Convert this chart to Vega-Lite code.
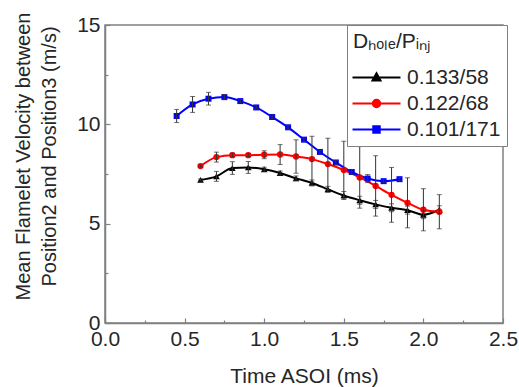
{
  "$schema": "https://vega.github.io/schema/vega-lite/v6.json",
  "width": 398,
  "height": 298,
  "autosize": "none",
  "padding": {"left": 105, "top": 25, "right": 16, "bottom": 64},
  "background": "white",
  "config": {
    "view": {"stroke": "#808080", "strokeWidth": 1.5},
    "axis": {
      "domainColor": "#808080",
      "domainWidth": 1.5,
      "tickColor": "#808080",
      "tickWidth": 1.2,
      "grid": false,
      "labelFont": "Liberation Sans",
      "labelFontSize": 21,
      "labelColor": "#262626",
      "titleFont": "Liberation Sans",
      "titleFontWeight": "normal",
      "titleColor": "#262626"
    }
  },
  "datasets": {
    "d": [
      {"series": "0.133/58", "t": 0.6, "v": 7.2, "err": 0.05},
      {"series": "0.133/58", "t": 0.7, "v": 7.38, "err": 0.25},
      {"series": "0.133/58", "t": 0.8, "v": 7.8, "err": 0.32},
      {"series": "0.133/58", "t": 0.9, "v": 7.83, "err": 0.3},
      {"series": "0.133/58", "t": 1.0, "v": 7.74, "err": 0.1},
      {"series": "0.133/58", "t": 1.1, "v": 7.55, "err": 0.1},
      {"series": "0.133/58", "t": 1.2, "v": 7.28, "err": 0.12},
      {"series": "0.133/58", "t": 1.3, "v": 7.05, "err": 0.15},
      {"series": "0.133/58", "t": 1.4, "v": 6.73, "err": 0.15},
      {"series": "0.133/58", "t": 1.5, "v": 6.42, "err": 0.2},
      {"series": "0.133/58", "t": 1.6, "v": 6.18, "err": 0.2},
      {"series": "0.133/58", "t": 1.7, "v": 5.97, "err": 0.2},
      {"series": "0.133/58", "t": 1.8, "v": 5.8, "err": 0.2},
      {"series": "0.133/58", "t": 1.9, "v": 5.68, "err": 0.2},
      {"series": "0.133/58", "t": 2.0, "v": 5.45, "err": 0.2},
      {"series": "0.133/58", "t": 2.1, "v": 5.7, "err": 0.2},
      {"series": "0.122/68", "t": 0.6, "v": 7.9, "err": 0.05},
      {"series": "0.122/68", "t": 0.7, "v": 8.35, "err": 0.25},
      {"series": "0.122/68", "t": 0.8, "v": 8.45, "err": 0.1},
      {"series": "0.122/68", "t": 0.9, "v": 8.45, "err": 0.08},
      {"series": "0.122/68", "t": 1.0, "v": 8.47, "err": 0.2},
      {"series": "0.122/68", "t": 1.1, "v": 8.48, "err": 0.5},
      {"series": "0.122/68", "t": 1.2, "v": 8.38, "err": 0.84},
      {"series": "0.122/68", "t": 1.3, "v": 8.25, "err": 1.15},
      {"series": "0.122/68", "t": 1.4, "v": 8.0, "err": 1.3},
      {"series": "0.122/68", "t": 1.5, "v": 7.7, "err": 1.45},
      {"series": "0.122/68", "t": 1.6, "v": 7.33, "err": 1.55},
      {"series": "0.122/68", "t": 1.7, "v": 6.9, "err": 1.52},
      {"series": "0.122/68", "t": 1.8, "v": 6.45, "err": 1.38},
      {"series": "0.122/68", "t": 1.9, "v": 6.05, "err": 1.26},
      {"series": "0.122/68", "t": 2.0, "v": 5.7, "err": 1.06},
      {"series": "0.122/68", "t": 2.1, "v": 5.6, "err": 0.86},
      {"series": "0.101/171", "t": 0.45, "v": 10.42, "err": 0.33},
      {"series": "0.101/171", "t": 0.55, "v": 11.0, "err": 0.4},
      {"series": "0.101/171", "t": 0.65, "v": 11.29, "err": 0.32},
      {"series": "0.101/171", "t": 0.75, "v": 11.37, "err": 0.12},
      {"series": "0.101/171", "t": 0.85, "v": 11.17, "err": 0.08},
      {"series": "0.101/171", "t": 0.95, "v": 10.85, "err": 0.08},
      {"series": "0.101/171", "t": 1.05, "v": 10.37, "err": 0.1},
      {"series": "0.101/171", "t": 1.15, "v": 9.85, "err": 0.1},
      {"series": "0.101/171", "t": 1.25, "v": 9.23, "err": 0.1},
      {"series": "0.101/171", "t": 1.35, "v": 8.61, "err": 0.1},
      {"series": "0.101/171", "t": 1.45, "v": 8.08, "err": 0.1},
      {"series": "0.101/171", "t": 1.55, "v": 7.6, "err": 0.12},
      {"series": "0.101/171", "t": 1.65, "v": 7.27, "err": 0.2},
      {"series": "0.101/171", "t": 1.75, "v": 7.14, "err": 0.08},
      {"series": "0.101/171", "t": 1.85, "v": 7.24, "err": 0.08}
    ]
  },
  "data": {"name": "d"},
  "layer": [
    {
      "mark": {"type": "line", "interpolate": "monotone", "strokeWidth": 2},
      "encoding": {
        "x": {
          "field": "t", "type": "quantitative",
          "scale": {"domain": [0, 2.5], "nice": false},
          "axis": {
            "orient": "bottom",
            "values": [0, 0.5, 1, 1.5, 2, 2.5],
            "format": ".1f",
            "tickSize": -5,
            "labelPadding": 10,
            "labelFlush": false,
            "labelOverlap": false,
            "title": "Time ASOI (ms)",
            "titleFontSize": 21,
            "titleBaseline": "alphabetic",
            "titleY": 59
          }
        },
        "y": {
          "field": "v", "type": "quantitative",
          "scale": {"domain": [0, 15], "nice": false},
          "axis": {
            "orient": "left",
            "values": [0, 5, 10, 15],
            "tickSize": -5,
            "labelPadding": 10,
            "labelFlush": false,
            "labelOverlap": false,
            "title": ["Mean Flamelet Velocity between", "Position2 and Position3 (m/s)"],
            "titleFontSize": 20,
            "titleLineHeight": 26,
            "titleAngle": -90,
            "titleAlign": "center",
            "titleBaseline": "alphabetic",
            "titleX": -76,
            "titleY": 131
          }
        },
        "color": {
          "field": "series", "type": "nominal",
          "scale": {"domain": ["0.133/58", "0.122/68", "0.101/171"], "range": ["#000000", "#ff0000", "#0000ff"]},
          "legend": {
            "title": "Dₕₒₗₑ/Pᵢₙⱼ",
            "orient": "none",
            "legendX": 242,
            "legendY": 0,
            "padding": 6,
            "strokeColor": "#808080",
            "fillColor": "white",
            "titleFont": "Liberation Sans",
            "titleFontSize": 21,
            "titleFontWeight": "normal",
            "titleColor": "#262626",
            "titlePadding": 15,
            "labelFont": "Liberation Sans",
            "labelFontSize": 21,
            "labelColor": "#262626",
            "labelOffset": 33,
            "symbolSize": 100,
            "symbolStrokeWidth": 2,
            "symbolOpacity": 1,
            "rowPadding": 4
          }
        }
      }
    },
    {
      "mark": {"type": "point", "filled": true, "size": 0, "opacity": 1, "strokeWidth": 2},
      "encoding": {
        "x": {"field": "t", "type": "quantitative", "axis": null},
        "y": {"field": "v", "type": "quantitative", "axis": null},
        "color": {"field": "series", "type": "nominal"},
        "shape": {
          "field": "series", "type": "nominal",
          "scale": {
            "domain": ["0.133/58", "0.122/68", "0.101/171"],
            "range": [
              "M-2.2,0H7.4M1.8,0.6L2.6,-0.85L3.4,0.6Z",
              "M-2.2,0H7.4M1.85,0A0.75,0.75,0,1,0,3.35,0A0.75,0.75,0,1,0,1.85,0Z",
              "M-2.2,0H7.4M1.95,-0.65H3.25V0.65H1.95Z"
            ]
          }
        }
      }
    },
    {
      "transform": [{"filter": "datum.series === '0.133/58'"}],
      "mark": {"type": "point", "filled": true, "size": 45, "opacity": 1, "shape": "triangle-up"},
      "encoding": {
        "x": {"field": "t", "type": "quantitative", "axis": null},
        "y": {"field": "v", "type": "quantitative", "axis": null},
        "color": {"field": "series", "type": "nominal"}
      }
    },
    {
      "transform": [{"filter": "datum.series === '0.122/68'"}],
      "mark": {"type": "point", "filled": true, "size": 40, "opacity": 1, "shape": "circle"},
      "encoding": {
        "x": {"field": "t", "type": "quantitative", "axis": null},
        "y": {"field": "v", "type": "quantitative", "axis": null},
        "color": {"field": "series", "type": "nominal"}
      }
    },
    {
      "transform": [{"filter": "datum.series === '0.101/171'"}],
      "mark": {"type": "point", "filled": true, "size": 36, "opacity": 1, "shape": "square"},
      "encoding": {
        "x": {"field": "t", "type": "quantitative", "axis": null},
        "y": {"field": "v", "type": "quantitative", "axis": null},
        "color": {"field": "series", "type": "nominal"}
      }
    },
    {
      "mark": {"type": "errorbar", "color": "#333333", "thickness": 1, "ticks": {"size": 5, "thickness": 1}},
      "encoding": {
        "x": {"field": "t", "type": "quantitative", "axis": null},
        "y": {"field": "v", "type": "quantitative", "axis": null},
        "yError": {"field": "err"}
      }
    },
    {
      "mark": {"type": "point", "opacity": 0},
      "encoding": {
        "x": {
          "field": "t", "type": "quantitative",
          "axis": {"orient": "bottom", "values": [0.25, 0.75, 1.25, 1.75, 2.25], "labels": false, "domain": false, "tickSize": -3, "title": null}
        },
        "y": {
          "field": "v", "type": "quantitative",
          "axis": {"orient": "left", "values": [2.5, 7.5, 12.5], "labels": false, "domain": false, "tickSize": -3, "title": null}
        }
      }
    }
  ],
  "resolve": {"axis": {"x": "independent", "y": "independent"}}
}
